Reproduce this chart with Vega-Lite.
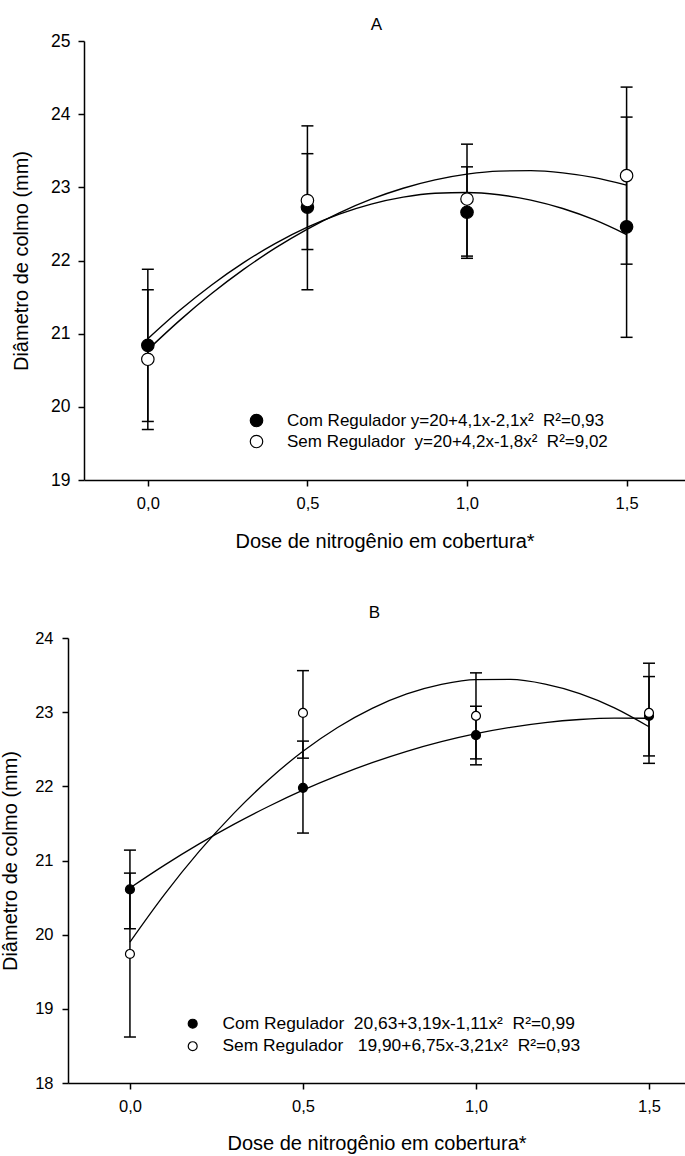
{
  "$schema": "https://vega.github.io/schema/vega-lite/v6.json",
  "background": "white",
  "padding": {"left": 0, "top": 16, "right": 0, "bottom": 0},
  "config": {
    "view": {"stroke": null},
    "font": "Liberation Sans",
    "axis": {
      "grid": false,
      "domainColor": "black",
      "domainWidth": 1.5,
      "tickColor": "black",
      "tickWidth": 1.5,
      "tickSize": 6,
      "labelColor": "black",
      "titleColor": "black",
      "labelFont": "Liberation Sans",
      "titleFont": "Liberation Sans",
      "titleFontWeight": "normal",
      "labelFlush": false,
      "labelOverlap": false
    },
    "title": {"font": "Liberation Sans", "fontWeight": "normal", "color": "black", "fontSize": 17, "frame": "group"},
    "legend": {
      "labelFont": "Liberation Sans",
      "labelColor": "black",
      "labelLimit": 600,
      "symbolStrokeColor": "black",
      "symbolStrokeWidth": 1.2,
      "symbolType": "circle",
      "symbolOpacity": 1,
      "padding": 0
    }
  },
  "datasets": {
    "ptsA": [
      {"dose": 0, "grupo": "Com Regulador", "media": 20.84, "lo": 19.80, "hi": 21.88},
      {"dose": 0.5, "grupo": "Com Regulador", "media": 22.73, "lo": 21.60, "hi": 23.84},
      {"dose": 1, "grupo": "Com Regulador", "media": 22.66, "lo": 22.06, "hi": 23.28},
      {"dose": 1.5, "grupo": "Com Regulador", "media": 22.46, "lo": 20.95, "hi": 23.96},
      {"dose": 0, "grupo": "Sem Regulador", "media": 20.65, "lo": 19.69, "hi": 21.60},
      {"dose": 0.5, "grupo": "Sem Regulador", "media": 22.82, "lo": 22.15, "hi": 23.46},
      {"dose": 1, "grupo": "Sem Regulador", "media": 22.84, "lo": 22.03, "hi": 23.59},
      {"dose": 1.5, "grupo": "Sem Regulador", "media": 23.16, "lo": 21.95, "hi": 24.37}
    ],
    "curvA": [
      {"dose": 0, "grupo": "Com Regulador", "valor": 20.93},
      {"dose": 0.1, "grupo": "Com Regulador", "valor": 21.319},
      {"dose": 0.2, "grupo": "Com Regulador", "valor": 21.666},
      {"dose": 0.3, "grupo": "Com Regulador", "valor": 21.971},
      {"dose": 0.4, "grupo": "Com Regulador", "valor": 22.234},
      {"dose": 0.5, "grupo": "Com Regulador", "valor": 22.455},
      {"dose": 0.6, "grupo": "Com Regulador", "valor": 22.634},
      {"dose": 0.7, "grupo": "Com Regulador", "valor": 22.771},
      {"dose": 0.8, "grupo": "Com Regulador", "valor": 22.866},
      {"dose": 0.9, "grupo": "Com Regulador", "valor": 22.919},
      {"dose": 1.0, "grupo": "Com Regulador", "valor": 22.93},
      {"dose": 1.1, "grupo": "Com Regulador", "valor": 22.899},
      {"dose": 1.2, "grupo": "Com Regulador", "valor": 22.826},
      {"dose": 1.3, "grupo": "Com Regulador", "valor": 22.711},
      {"dose": 1.4, "grupo": "Com Regulador", "valor": 22.554},
      {"dose": 1.5, "grupo": "Com Regulador", "valor": 22.355},
      {"dose": 0, "grupo": "Sem Regulador", "valor": 20.78},
      {"dose": 0.1, "grupo": "Sem Regulador", "valor": 21.182},
      {"dose": 0.2, "grupo": "Sem Regulador", "valor": 21.548},
      {"dose": 0.3, "grupo": "Sem Regulador", "valor": 21.878},
      {"dose": 0.4, "grupo": "Sem Regulador", "valor": 22.172},
      {"dose": 0.5, "grupo": "Sem Regulador", "valor": 22.43},
      {"dose": 0.6, "grupo": "Sem Regulador", "valor": 22.652},
      {"dose": 0.7, "grupo": "Sem Regulador", "valor": 22.838},
      {"dose": 0.8, "grupo": "Sem Regulador", "valor": 22.988},
      {"dose": 0.9, "grupo": "Sem Regulador", "valor": 23.102},
      {"dose": 1.0, "grupo": "Sem Regulador", "valor": 23.18},
      {"dose": 1.1, "grupo": "Sem Regulador", "valor": 23.222},
      {"dose": 1.2, "grupo": "Sem Regulador", "valor": 23.228},
      {"dose": 1.3, "grupo": "Sem Regulador", "valor": 23.198},
      {"dose": 1.4, "grupo": "Sem Regulador", "valor": 23.132},
      {"dose": 1.5, "grupo": "Sem Regulador", "valor": 23.03}
    ],
    "ptsB": [
      {"dose": 0, "grupo": "Com Regulador", "media": 20.61, "lo": 20.08, "hi": 21.14},
      {"dose": 0.5, "grupo": "Com Regulador", "media": 21.98, "lo": 21.37, "hi": 22.61},
      {"dose": 1, "grupo": "Com Regulador", "media": 22.69, "lo": 22.29, "hi": 23.08},
      {"dose": 1.5, "grupo": "Com Regulador", "media": 22.95, "lo": 22.41, "hi": 23.48},
      {"dose": 0, "grupo": "Sem Regulador", "media": 19.74, "lo": 18.62, "hi": 20.83},
      {"dose": 0.5, "grupo": "Sem Regulador", "media": 22.99, "lo": 22.38, "hi": 23.56},
      {"dose": 1, "grupo": "Sem Regulador", "media": 22.95, "lo": 22.37, "hi": 23.53},
      {"dose": 1.5, "grupo": "Sem Regulador", "media": 22.99, "lo": 22.31, "hi": 23.66}
    ],
    "curvB": [
      {"dose": 0, "grupo": "Com Regulador", "valor": 20.63},
      {"dose": 0.1, "grupo": "Com Regulador", "valor": 20.938},
      {"dose": 0.2, "grupo": "Com Regulador", "valor": 21.224},
      {"dose": 0.3, "grupo": "Com Regulador", "valor": 21.487},
      {"dose": 0.4, "grupo": "Com Regulador", "valor": 21.728},
      {"dose": 0.5, "grupo": "Com Regulador", "valor": 21.948},
      {"dose": 0.6, "grupo": "Com Regulador", "valor": 22.144},
      {"dose": 0.7, "grupo": "Com Regulador", "valor": 22.319},
      {"dose": 0.8, "grupo": "Com Regulador", "valor": 22.472},
      {"dose": 0.9, "grupo": "Com Regulador", "valor": 22.602},
      {"dose": 1.0, "grupo": "Com Regulador", "valor": 22.71},
      {"dose": 1.1, "grupo": "Com Regulador", "valor": 22.796},
      {"dose": 1.2, "grupo": "Com Regulador", "valor": 22.86},
      {"dose": 1.3, "grupo": "Com Regulador", "valor": 22.901},
      {"dose": 1.4, "grupo": "Com Regulador", "valor": 22.92},
      {"dose": 1.5, "grupo": "Com Regulador", "valor": 22.918},
      {"dose": 0, "grupo": "Sem Regulador", "valor": 19.90},
      {"dose": 0.1, "grupo": "Sem Regulador", "valor": 20.543},
      {"dose": 0.2, "grupo": "Sem Regulador", "valor": 21.122},
      {"dose": 0.3, "grupo": "Sem Regulador", "valor": 21.636},
      {"dose": 0.4, "grupo": "Sem Regulador", "valor": 22.086},
      {"dose": 0.5, "grupo": "Sem Regulador", "valor": 22.473},
      {"dose": 0.6, "grupo": "Sem Regulador", "valor": 22.794},
      {"dose": 0.7, "grupo": "Sem Regulador", "valor": 23.052},
      {"dose": 0.8, "grupo": "Sem Regulador", "valor": 23.246},
      {"dose": 0.9, "grupo": "Sem Regulador", "valor": 23.375},
      {"dose": 1.0, "grupo": "Sem Regulador", "valor": 23.44},
      {"dose": 1.1, "grupo": "Sem Regulador", "valor": 23.441},
      {"dose": 1.2, "grupo": "Sem Regulador", "valor": 23.378},
      {"dose": 1.3, "grupo": "Sem Regulador", "valor": 23.25},
      {"dose": 1.4, "grupo": "Sem Regulador", "valor": 23.058},
      {"dose": 1.5, "grupo": "Sem Regulador", "valor": 22.803}
    ]
  },
  "spacing": 52,
  "resolve": {
    "scale": {"x": "independent", "y": "independent", "fill": "independent"},
    "legend": {"fill": "independent"}
  },
  "vconcat": [
    {
      "width": 601,
      "height": 439,
      "title": {"text": "A", "offset": -2, "dx": -8},
      "layer": [
        {
          "data": {"name": "ptsA"},
          "mark": {"type": "rule", "color": "black", "strokeWidth": 1.5},
          "encoding": {
            "x": {"field": "dose", "type": "quantitative",
              "scale": {"domain": [-0.2, 1.683], "nice": false, "zero": false},
              "axis": {"values": [0, 0.5, 1, 1.5], "labelExpr": "replace(format(datum.value, '.1f'), '.', ',')",
                "title": "Dose de nitrogênio em cobertura*", "labelFontSize": 16.5, "labelPadding": 9,
                "titleFontSize": 20, "titlePadding": 20}},
            "y": {"field": "lo", "type": "quantitative",
              "scale": {"domain": [19, 25], "nice": false, "zero": false},
              "axis": {"values": [19, 20, 21, 22, 23, 24, 25], "format": "d", "title": "Diâmetro de colmo (mm)",
                "labelFontSize": 17.5, "labelPadding": 8, "titleFontSize": 20, "titlePadding": 19}},
            "y2": {"field": "hi"}
          }
        },
        {
          "data": {"name": "ptsA"},
          "mark": {"type": "tick", "orient": "horizontal", "size": 12, "thickness": 1.5, "color": "black", "opacity": 1},
          "encoding": {
            "x": {"field": "dose", "type": "quantitative"},
            "y": {"field": "lo", "type": "quantitative"}
          }
        },
        {
          "data": {"name": "ptsA"},
          "mark": {"type": "tick", "orient": "horizontal", "size": 12, "thickness": 1.5, "color": "black", "opacity": 1},
          "encoding": {
            "x": {"field": "dose", "type": "quantitative"},
            "y": {"field": "hi", "type": "quantitative"}
          }
        },
        {
          "data": {"name": "curvA"},
          "mark": {"type": "line", "color": "black", "strokeWidth": 1.4, "interpolate": "monotone"},
          "encoding": {
            "x": {"field": "dose", "type": "quantitative"},
            "y": {"field": "valor", "type": "quantitative"},
            "detail": {"field": "grupo", "type": "nominal"}
          }
        },
        {
          "data": {"name": "ptsA"},
          "mark": {"type": "point", "filled": true, "size": 155, "stroke": "black", "strokeWidth": 1.2, "opacity": 1},
          "encoding": {
            "x": {"field": "dose", "type": "quantitative"},
            "y": {"field": "media", "type": "quantitative"},
            "fill": {"field": "grupo", "type": "nominal",
              "scale": {"domain": ["Com Regulador", "Sem Regulador"], "range": ["black", "white"]},
              "legend": {"orient": "none", "legendX": 164, "legendY": 371, "title": null,
                "symbolSize": 155, "labelFontSize": 17, "labelOffset": 22, "rowPadding": 2,
                "labelExpr": "datum.label == 'Com Regulador' ? 'Com Regulador y=20+4,1x-2,1x² \u00a0R²=0,93' : 'Sem Regulador \u00a0y=20+4,2x-1,8x² \u00a0R²=9,02'"}}
          }
        }
      ]
    },
    {
      "width": 601,
      "height": 445,
      "title": {"text": "B", "offset": 8, "dx": -10},
      "layer": [
        {
          "data": {"name": "ptsB"},
          "mark": {"type": "rule", "color": "black", "strokeWidth": 1.5},
          "encoding": {
            "x": {"field": "dose", "type": "quantitative",
              "scale": {"domain": [-0.179, 1.604], "range": [-16, 601], "nice": false, "zero": false},
              "axis": {"values": [0, 0.5, 1, 1.5], "labelExpr": "replace(format(datum.value, '.1f'), '.', ',')",
                "title": "Dose de nitrogênio em cobertura*", "labelFontSize": 16.5, "labelPadding": 9,
                "titleFontSize": 20, "titlePadding": 19}},
            "y": {"field": "lo", "type": "quantitative",
              "scale": {"domain": [18, 24], "nice": false, "zero": false},
              "axis": {"values": [18, 19, 20, 21, 22, 23, 24], "format": "d", "title": "Diâmetro de colmo (mm)", "offset": 16,
                "labelFontSize": 16.5, "labelPadding": 9, "titleFontSize": 20, "titlePadding": 14}},
            "y2": {"field": "hi"}
          }
        },
        {
          "data": {"name": "ptsB"},
          "mark": {"type": "tick", "orient": "horizontal", "size": 12, "thickness": 1.5, "color": "black", "opacity": 1},
          "encoding": {
            "x": {"field": "dose", "type": "quantitative"},
            "y": {"field": "lo", "type": "quantitative"}
          }
        },
        {
          "data": {"name": "ptsB"},
          "mark": {"type": "tick", "orient": "horizontal", "size": 12, "thickness": 1.5, "color": "black", "opacity": 1},
          "encoding": {
            "x": {"field": "dose", "type": "quantitative"},
            "y": {"field": "hi", "type": "quantitative"}
          }
        },
        {
          "data": {"name": "curvB"},
          "mark": {"type": "line", "color": "black", "strokeWidth": 1.3, "interpolate": "monotone"},
          "encoding": {
            "x": {"field": "dose", "type": "quantitative"},
            "y": {"field": "valor", "type": "quantitative"},
            "detail": {"field": "grupo", "type": "nominal"}
          }
        },
        {
          "data": {"name": "ptsB"},
          "mark": {"type": "point", "filled": true, "size": 80, "stroke": "black", "strokeWidth": 1.2, "opacity": 1},
          "encoding": {
            "x": {"field": "dose", "type": "quantitative"},
            "y": {"field": "media", "type": "quantitative"},
            "fill": {"field": "grupo", "type": "nominal",
              "scale": {"domain": ["Com Regulador", "Sem Regulador"], "range": ["black", "white"]},
              "legend": {"orient": "none", "legendX": 100, "legendY": 377, "title": null,
                "symbolSize": 80, "labelFontSize": 17.4, "labelOffset": 21, "rowPadding": 3.5,
                "labelExpr": "datum.label == 'Com Regulador' ? 'Com Regulador \u00a020,63+3,19x-1,11x² \u00a0R²=0,99' : 'Sem Regulador \u00a0\u00a019,90+6,75x-3,21x² \u00a0R²=0,93'"}}
          }
        }
      ]
    }
  ]
}
